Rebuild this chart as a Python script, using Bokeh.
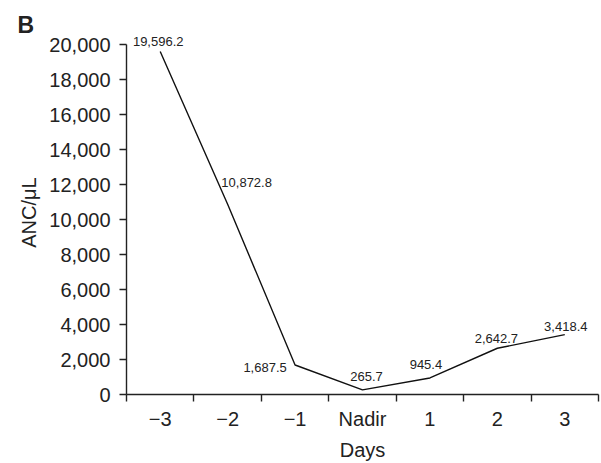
from bokeh.plotting import figure
from bokeh.models import ColumnDataSource, FixedTicker, NumeralTickFormatter, Range1d
from bokeh.core.properties import value
from bokeh.embed import file_html
from bokeh.resources import INLINE

# ---- data ----
days = ["\u22123", "\u22122", "\u22121", "Nadir", "1", "2", "3"]
anc = [19596.2, 10872.8, 1687.5, 265.7, 945.4, 2642.7, 3418.4]
anc_labels = ["19,596.2", "10,872.8", "1,687.5", "265.7", "945.4", "2,642.7", "3,418.4"]
y_ticks = list(range(0, 20001, 2000))
y_axis_max = 20000

# ---- label offsets (style, px) ----
lab_dx = [-2, 19, -30, 4, -4, -1, 1]
lab_dy = [-10, -22, 3, -13, -13, -10, -8]

xs = list(range(len(days)))
src = ColumnDataSource(dict(x=xs, y=anc, lab=anc_labels, dx=lab_dx, dy=lab_dy))

FONT = "Liberation Sans"
TXT = "#222222"
AX = "#222222"

x_rng = Range1d(-0.5, len(days) - 0.5)
# view extends a little above the axis top so the top value label is not clipped
y_rng = Range1d(0, 20800)

p = figure(width=600, height=463, output_backend="svg", toolbar_location=None,
           x_range=x_rng, y_range=y_rng,
           min_border_left=126, min_border_right=2, min_border_top=30, min_border_bottom=68)
p.outline_line_color = None
p.grid.visible = False
p.background_fill_color = "white"
p.border_fill_color = "white"

p.line("x", "y", source=src, line_color="#111111", line_width=1.4)
p.text("x", "y", text="lab", source=src, x_offset="dx", y_offset="dy",
       text_align="center", text_baseline="middle", text_font_size="13px",
       text_font=value(FONT), text_color=TXT)

# x axis
xa = p.xaxis[0]
xa.ticker = FixedTicker(ticks=xs, minor_ticks=[i - 0.5 for i in range(len(days) + 1)])
xa.major_label_overrides = {i: d for i, d in enumerate(days)}
xa.major_tick_out = 0
xa.major_tick_in = 0
xa.minor_tick_out = 7
xa.minor_tick_in = 0
xa.minor_tick_line_color = AX
xa.minor_tick_line_width = 1.4
xa.axis_line_color = AX
xa.axis_line_width = 1.4
xa.major_label_text_font = FONT
xa.major_label_text_font_size = "20px"
xa.major_label_text_color = TXT
xa.major_label_standoff = 6
xa.axis_label = "Days"
xa.axis_label_text_font = FONT
xa.axis_label_text_font_size = "20px"
xa.axis_label_text_font_style = "normal"
xa.axis_label_text_color = TXT
xa.axis_label_standoff = 6

# y axis
ya = p.yaxis[0]
ya.ticker = FixedTicker(ticks=y_ticks)
ya.bounds = (0, y_axis_max)
ya.formatter = NumeralTickFormatter(format="0,0")
ya.major_tick_out = 7
ya.major_tick_in = 0
ya.minor_tick_out = 0
ya.minor_tick_in = 0
ya.major_tick_line_color = AX
ya.major_tick_line_width = 1.4
ya.axis_line_color = AX
ya.axis_line_width = 1.4
ya.major_label_text_font = FONT
ya.major_label_text_font_size = "20px"
ya.major_label_text_color = TXT
ya.major_label_standoff = 9
ya.axis_label = "ANC/\u03bcL"
ya.axis_label_text_font = FONT
ya.axis_label_text_font_size = "20px"
ya.axis_label_text_font_style = "normal"
ya.axis_label_text_color = TXT
ya.axis_label_standoff = 6

# panel letter
p.title.text = "B"
p.title.text_font = FONT
p.title.text_font_size = "23px"
p.title.text_font_style = "bold"
p.title.text_color = TXT
p.title.align = "left"
p.title.offset = -109
p.title.standoff = -14

open("out.html", "w").write(file_html(p, INLINE))
